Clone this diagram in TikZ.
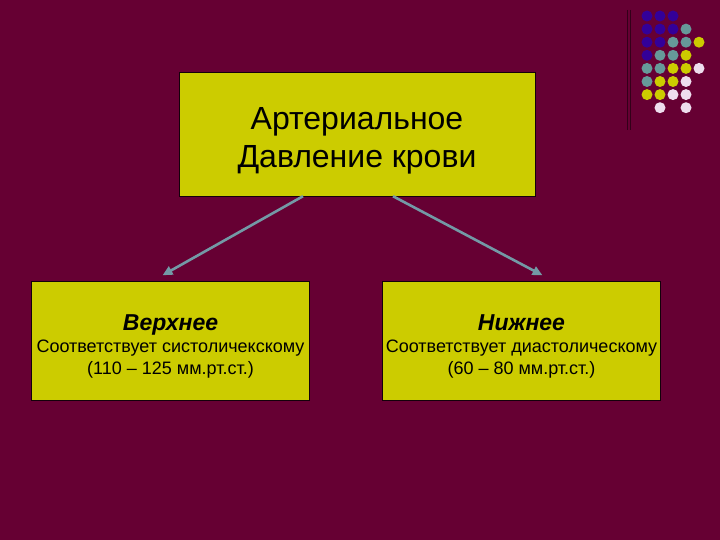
\documentclass[tikz,border=0pt]{standalone}
\usepackage{fontspec}
\setmainfont{Liberation Sans}
\usetikzlibrary{arrows.meta, positioning}
\definecolor{slidebg}{HTML}{660033}
\definecolor{boxfill}{HTML}{CCCC00}
\definecolor{arrowgray}{HTML}{7399A6}
\definecolor{dotpurple}{HTML}{330099}
\definecolor{dotgray}{HTML}{669999}
\definecolor{dotwhite}{HTML}{EEDDEE}
\newcommand{\headline}[1]{\fontsize{23}{23}\selectfont\bfseries\itshape\rule[-6pt]{0pt}{34pt}#1}
\newcommand{\bodyline}[1]{\normalfont\fontsize{18}{18}\selectfont\rule[-5pt]{0pt}{17pt}#1}

\begin{document}
\begin{tikzpicture}[
  x=1pt, y=-1pt,
  mainbox/.style={rectangle, draw=black!80!slidebg, fill=boxfill, minimum width=356pt, minimum height=124pt, align=center, font=\fontsize{32}{38}\selectfont},
  subbox/.style={rectangle, draw=black!80!slidebg, fill=boxfill, minimum width=278pt, minimum height=119pt, align=center, inner sep=0pt},
  arr/.style={-{Triangle[length=10pt,width=9pt]}, line width=2.6pt, draw=arrowgray},
  dot/.style={circle, inner sep=0pt, minimum size=11pt}
]
\fill[slidebg] (0,0) rectangle (720,540);
\useasboundingbox (0,0) rectangle (720,540);

% decoration top right
\draw[black!50!slidebg, line width=0.9pt] (627,10) -- (627,130);
\draw[black!50!slidebg, line width=0.9pt] (630,10) -- (630,130);
\foreach \c/\r/\col in {0/0/dotpurple, 1/0/dotpurple, 2/0/dotpurple,
  0/1/dotpurple, 1/1/dotpurple, 2/1/dotpurple, 3/1/dotgray,
  0/2/dotpurple, 1/2/dotpurple, 2/2/dotgray, 3/2/dotgray, 4/2/boxfill,
  0/3/dotpurple, 1/3/dotgray, 2/3/dotgray, 3/3/boxfill,
  0/4/dotgray, 1/4/dotgray, 2/4/boxfill, 3/4/boxfill, 4/4/dotwhite,
  0/5/dotgray, 1/5/boxfill, 2/5/boxfill, 3/5/dotwhite,
  0/6/boxfill, 1/6/boxfill, 2/6/dotwhite, 3/6/dotwhite,
  1/7/dotwhite, 3/7/dotwhite}
  \node[dot, fill=\col] (d\c\r) at (647+13*\c, 16+13.1*\r) {};

\node[mainbox] (pressure) at (357,134) {\rule{0pt}{36pt}Артериальное\\Давление крови};
\node[subbox] (upper) at (170.5,341) {\headline{Верхнее}\\[3pt]
  \bodyline{Соответствует систоличекскому}\\[3pt]\bodyline{(110 – 125 мм.рт.ст.)}};
\node[subbox] (lower) at (521.5,341) {\headline{Нижнее}\\[3pt]
  \bodyline{Соответствует диастолическому}\\[3pt]\bodyline{(60 – 80 мм.рт.ст.)}};

\draw[arr] ([xshift=-54pt]pressure.south) -- ([xshift=-8pt,yshift=6pt]upper.north);
\draw[arr] ([xshift=36pt]pressure.south) -- ([xshift=21pt,yshift=6pt]lower.north);
\end{tikzpicture}
\end{document}
